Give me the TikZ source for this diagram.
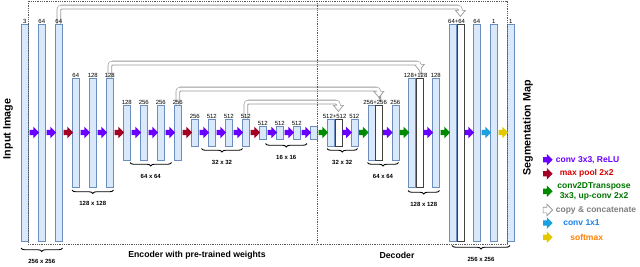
\documentclass[tikz,border=0pt]{standalone}
\usepackage{fontspec}
\setmainfont{Liberation Sans}
\usepackage{xcolor}
\usetikzlibrary{positioning, arrows.meta, calc, decorations.pathreplacing, shapes.arrows, backgrounds}
\definecolor{barfill}{HTML}{DAE8FC}
\definecolor{bardraw}{HTML}{6C8EBF}
\definecolor{cconv}{HTML}{6A00FF}
\definecolor{cpool}{HTML}{A20025}
\definecolor{cup}{HTML}{008A00}
\definecolor{cone}{HTML}{1BA1E2}
\definecolor{csoft}{HTML}{E3C800}

\begin{document}
\begin{tikzpicture}[x=1pt, y=-1pt, font=\fontsize{6}{7}\selectfont,
  bar/.style={draw=bardraw, fill=barfill, line width=0.6pt, minimum width=7pt,
              inner sep=0pt, anchor=north west},
  cat/.style={draw=black!75, fill=white, line width=0.6pt, minimum width=7pt,
              inner sep=0pt, anchor=north west},
  num/.style={anchor=south, inner sep=0.7pt},
  dim/.style={font=\fontsize{6}{7}\selectfont\bfseries, inner sep=0pt},
  arw/.style={single arrow, draw=none, inner xsep=0pt, inner ysep=2.5pt,
              minimum height=9.5pt, single arrow head extend=3pt},
  skipo/.style={line width=4.6pt, draw=black!40, rounded corners=3pt,
                -{Triangle[length=7pt, width=11pt]}},
  skipi/.style={line width=3pt, draw=white, rounded corners=2.5pt, shorten >=1.3pt,
                -{Triangle[length=5pt, width=7.6pt]}},
  brc/.style={decorate, decoration={brace, mirror, amplitude=3.5pt}, line width=0.9pt},
  box/.style={draw=black!65, densely dotted, line width=0.8pt},
  ttl/.style={font=\fontsize{8.7}{10}\selectfont\bfseries, inner sep=0pt},
  side/.style={font=\fontsize{10.7}{12}\selectfont\bfseries, inner sep=0pt, rotate=90},
  key/.style={font=\fontsize{8.5}{10}\selectfont\bfseries, inner sep=0pt, align=center},
]
  \useasboundingbox (0,0) rectangle (640,266);

  % encoder
  \foreach \xn/\xx/\xlab in {1/21/3, 2/38/64, 3/55/64} {
    \node[bar, minimum height=217pt] (e1\xn) at (\xx,24) {};
    \node[num] (n1\xn) at (e1\xn.north) {\xlab};
  }
  \foreach \xn/\xx/\xlab in {1/72/64, 2/89/128, 3/106/128} {
    \node[bar, minimum height=109pt] (e2\xn) at (\xx,78) {};
    \node[num] (n2\xn) at (e2\xn.north) {\xlab};
  }
  \foreach \xn/\xx/\xlab in {1/123/128, 2/140/256, 3/157/256, 4/174/256} {
    \node[bar, minimum height=54.5pt] (e3\xn) at (\xx,105) {};
    \node[num] (n3\xn) at (e3\xn.north) {\xlab};
  }
  \foreach \xn/\xx/\xlab in {1/191/256, 2/208/512, 3/225/512, 4/242/512} {
    \node[bar, minimum height=27pt] (e4\xn) at (\xx,119) {};
    \node[num] (n4\xn) at (e4\xn.north) {\xlab};
  }
  \foreach \xn/\xx/\xlab in {1/259/512, 2/276/512, 3/293/512, 4/310/{}} {
    \node[bar, minimum height=13pt] (e5\xn) at (\xx,126) {};
    \node[num] (n5\xn) at (e5\xn.north) {\xlab};
  }

  % decoder: concatenated pairs, then the others
  \foreach \xn/\xx/\xtop/\xh/\xlab in {4/327/119/27/512+512, 3/367.5/105/54.5/256+256,
                                      2/408/78/109/128+128, 1/449/24/217/64+64} {
    \node[bar, minimum height=\xh pt] (c\xn) at (\xx,\xtop) {};
    \node[cat, minimum height=\xh pt] (w\xn) at (c\xn.north east) {};
    \node[num] (m\xn) at (c\xn.north east) {\xlab};
  }
  \foreach \xn/\xx/\xtop/\xh/\xlab in {4/350.5/119/27/512, 3/391.5/105/54.5/256,
                                      2/432/78/109/128, 1/473/24/217/64,
                                      5/490/24/217/1, 6/507/24/217/1} {
    \node[bar, minimum height=\xh pt] (d\xn) at (\xx,\xtop) {};
    \node[num] (p\xn) at (d\xn.north) {\xlab};
  }

  % skip connections
  \begin{scope}[on background layer]
  \foreach \xs/\xt/\xr in {e13/w1/17, e23/w2/15, e34/w3/16, e44/w4/17} {
    \draw[skipo] (\xs.north) -- ++(0,-\xr) -| ([yshift=7pt]\xt.north);
    \draw[skipi] (\xs.north) -- ++(0,-\xr) -| ([yshift=7pt]\xt.north);
  }
  \end{scope}

  \draw[box] (28,1) rectangle (507,244);
  \draw[box] (317,1) -- (317,244);

  \foreach \xn/\xx/\xc in {1/33/cconv, 2/50/cconv, 3/67/cpool, 4/84/cconv, 5/101/cconv,
      6/118/cpool, 7/135/cconv, 8/152/cconv, 9/169/cconv, 10/186/cpool,
      11/203/cconv, 12/220/cconv, 13/237/cconv, 14/254/cpool, 15/271/cconv,
      16/288/cconv, 17/305/cconv, 18/322/cup, 19/345.7/cconv, 20/362.5/cup,
      21/386.5/cconv, 22/403.2/cup, 23/427/cconv, 24/444/cup, 25/468/cconv,
      26/485/cone, 27/502/csoft} {
    \node[arw, fill=\xc] (a\xn) at (\xx,132.5) {};
  }

  \foreach \xn/\xa/\xb/\xy/\xlab in {1/21/62.5/248/{256 x 256}, 2/72/113.5/190/{128 x 128},
      3/130/171.5/162.5/{64 x 64}, 4/201.5/242.5/148.5/{32 x 32}, 5/265.5/307/143.5/{16 x 16},
      6/327/357.5/148.5/{32 x 32}, 7/367.5/398.5/162.5/{64 x 64}, 8/408/439.5/190.5/{128 x 128},
      9/452/510/245.5/{256 x 256}} {
    \draw[brc] (\xa,\xy) -- (\xb,\xy);
    \node[dim] (s\xn) at ({(\xa+\xb)/2},\xy+13.5) {\xlab};
  }

  \node[ttl] (enc) at (197,255) {Encoder with pre-trained weights};
  \node[ttl] (dec) at (397,255) {Decoder};
  \node[side] (inp) at (8,129) {Input Image};
  \node[side] (seg) at (528,128) {Segmentation Map};

  % legend
  \foreach \xn/\xy/\xc in {1/159.7/cconv, 2/173.7/cpool, 3/191.3/cup, 5/223/cone, 6/237.3/csoft} {
    \node[arw, fill=\xc] (k\xn) at (546.5,\xy) {};
  }
  \node[arw, draw=black!45, fill=white, line width=0.6pt] (k4) at (546.5,210) {};
  \node[key, text=cconv] (t1) at (587.5,160) {conv 3x3, ReLU};
  \node[key, text=red!85!black] (t2) at (586.7,173.7) {max pool 2x2};
  \node[key, text=green!45!black] (t3) at (594,191) {conv2DTranspose\\3x3, up-conv 2x2};
  \node[key, text=black!50] (t4) at (596,210.5) {copy \& concatenate};
  \node[key, text=cone!80!blue] (t5) at (581.5,223) {conv 1x1};
  \node[key, text=orange] (t6) at (586.7,237.3) {softmax};
\end{tikzpicture}
\end{document}
